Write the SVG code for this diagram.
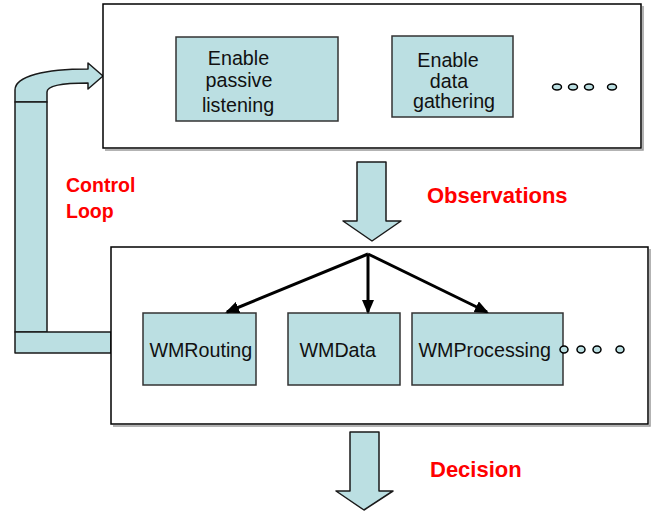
<svg xmlns="http://www.w3.org/2000/svg" width="659" height="512" viewBox="0 0 659 512">
  <style>
    .frame { fill: #ffffff; stroke: #000000; stroke-width: 1.5; }
    .shadow { fill: none; stroke: #9a9a9a; stroke-width: 1.5; }
    .box { fill: #bbdfe2; stroke: #333333; stroke-width: 1.5; }
    .band { fill: #bbdfe2; stroke: #1a1a1a; stroke-width: 1.5; stroke-linejoin: round; }
    .dot { fill: #bbdfe2; stroke: #000000; stroke-width: 1.5; }
    .lbl { font-family: "Liberation Sans", Arial, sans-serif; font-size: 19.7px; fill: #111111; text-anchor: middle; }
    .red { font-family: "Liberation Sans", Arial, sans-serif; font-weight: bold; fill: #ff0000; }
    .link { stroke: #000000; stroke-width: 3; fill: none; }
  </style>
  <defs>
    <marker id="head" markerUnits="userSpaceOnUse" markerWidth="14" markerHeight="12" viewBox="0 0 14 12" refX="12" refY="6" orient="auto">
      <path d="M0,0 L14,6 L0,12 Z" fill="#000000"/>
    </marker>
  </defs>

  <!-- control loop band: vertical bar, curved return arrow and foot -->
  <g id="control-loop">
    <path class="band" d="M15,102 L15,90 C15,76 45,69 88,69 L88,63 L103,76 L88,89 L88,83 C62,83 47,86 47,92 L47,102 Z"/>
    <rect class="band" x="15" y="102" width="32" height="230"/>
    <rect class="band" x="15" y="332" width="96" height="21"/>
    <text class="red" x="66" y="192" font-size="19.5">Control</text>
    <text class="red" x="66" y="218" font-size="19.5">Loop</text>
  </g>

  <!-- top container with capability boxes -->
  <g id="capabilities">
    <path class="shadow" d="M105,150 L643,150 L643,6"/>
    <rect class="frame" x="103" y="4" width="538" height="144"/>
  </g>
  <g id="passive-listening">
    <rect class="box" x="176" y="37" width="162" height="84"/>
    <text class="lbl" x="238.5" y="65">Enable</text>
    <text class="lbl" x="239" y="87">passive</text>
    <text class="lbl" x="238" y="112">listening</text>
  </g>
  <g id="data-gathering">
    <rect class="box" x="392" y="36" width="121" height="81"/>
    <text class="lbl" x="448" y="67">Enable</text>
    <text class="lbl" x="449" y="88" font-size="17px">data</text>
    <text class="lbl" x="454" y="108" font-size="17.6px">gathering</text>
  </g>
  <g id="top-more">
    <ellipse class="dot" cx="557" cy="87" rx="4.5" ry="3"/>
    <ellipse class="dot" cx="573" cy="87" rx="4.5" ry="3"/>
    <ellipse class="dot" cx="589" cy="87" rx="4.5" ry="3"/>
    <ellipse class="dot" cx="612" cy="87" rx="4.5" ry="3"/>
  </g>

  <!-- observations arrow -->
  <g id="observations">
    <path class="band" d="M357,162 L386,162 L386,221 L401,221 L372,241 L343,221 L357,221 Z"/>
    <text class="red" x="427" y="203" font-size="22">Observations</text>
  </g>

  <!-- lower container with workflow modules -->
  <g id="modules">
    <path class="shadow" d="M113,426 L650,426 L650,249"/>
    <rect class="frame" x="111" y="247" width="537" height="177"/>
  </g>
  <g id="wmrouting">
    <rect class="box" x="143" y="313" width="113" height="72"/>
    <text class="lbl" x="200.8" y="357">WMRouting</text>
  </g>
  <g id="wmdata">
    <rect class="box" x="288" y="313" width="112" height="72"/>
    <text class="lbl" x="337.7" y="357">WMData</text>
  </g>
  <g id="wmprocessing">
    <rect class="box" x="412" y="313" width="151" height="72"/>
    <text class="lbl" x="484.7" y="357">WMProcessing</text>
  </g>
  <g id="bottom-more">
    <ellipse class="dot" cx="564" cy="349.5" rx="4" ry="3.5" stroke-width="1"/>
    <ellipse class="dot" cx="581" cy="349.5" rx="4" ry="3.5" stroke-width="1"/>
    <ellipse class="dot" cx="597" cy="349.5" rx="4" ry="3.5" stroke-width="1"/>
    <ellipse class="dot" cx="620" cy="349.5" rx="4" ry="3.5" stroke-width="1"/>
  </g>

  <!-- decision arrow -->
  <g id="decision">
    <path class="band" d="M350,432 L379,432 L379,491 L393,491 L364,510 L336,491 L350,491 Z"/>
    <text class="red" x="430" y="477" font-size="22">Decision</text>
  </g>

  <!-- dispatch connectors -->
  <g id="connectors">
    <line class="link" x1="368" y1="254" x2="227" y2="312" marker-end="url(#head)"/>
    <line class="link" x1="368" y1="254" x2="368" y2="312" marker-end="url(#head)"/>
    <line class="link" x1="368" y1="254" x2="487" y2="312" marker-end="url(#head)"/>
  </g>
</svg>
